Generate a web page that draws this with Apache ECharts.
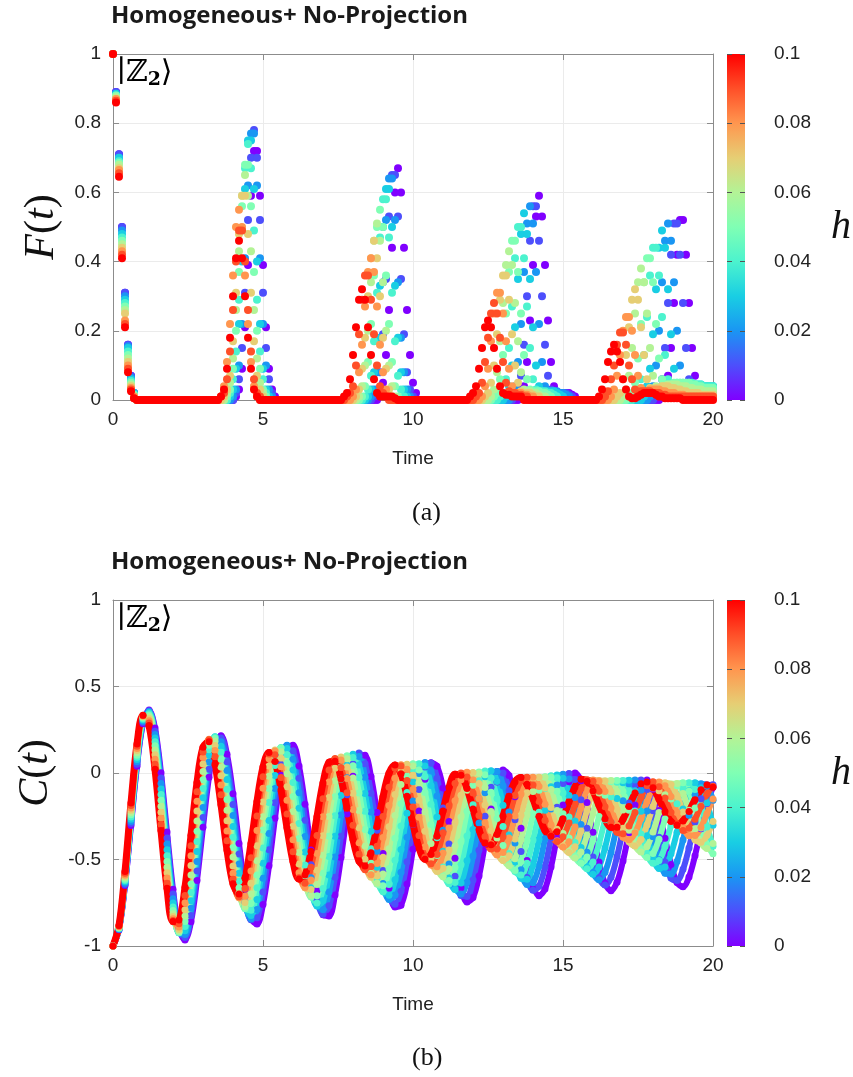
<!DOCTYPE html>
<html><head><meta charset="utf-8">
<script src="https://cdn.jsdelivr.net/npm/echarts@6.0.0/dist/echarts.min.js"></script>
<style>html,body{margin:0;padding:0;background:#fff;}#main{width:853px;height:1077px;}</style>
</head><body><div id="main"></div>
<script>
// ---------------- data ----------------
const hValues = [0, 0.01, 0.02, 0.03, 0.04, 0.05, 0.06, 0.07, 0.08, 0.09, 0.1];
const F_STEP = 0.1;   // sampling step of F(t)
const C_STEP = 0.2;   // sampling step of C(t)
const timeTicks = [0, 5, 10, 15, 20];
const fTicks = [0, 0.2, 0.4, 0.6, 0.8, 1];
const cTicks = [-1, -0.5, 0, 0.5, 1];
const hTicks = [0, 0.02, 0.04, 0.06, 0.08, 0.1];

const F_h0 = [
1,.89,.71,.5,.31,.16,.07,.02,0,0, 0,0,0,0,0,0,0,0,0,0, 0,0,0,0,0,0,0,0,0,0, 0,0,0,0,0,0,0,0,0,0,
0,.01,.03,.09,.21,.39,.59,.72,.72,.59, .39,.21,.09,.03,.01,0,0,0,0,0, 0,0,0,0,0,0,0,0,0,0, 0,0,0,0,0,0,0,0,0,0,
0,0,0,0,0,0,0,0,0,.02, .05,.13,.26,.44,.6,.67,.6,.44,.26,.13, .05,.02,0,0,0,0,0,0,0,0, 0,0,0,0,0,0,0,0,0,0,
0,0,0,0,0,0,0,0,0,0, 0,0,0,0,0,0,.01,.04,.11,.23, .39,.53,.59,.53,.39,.23,.11,.04,.02,.02, .02,.02,.02,.015,.01,0,0,0,0,0,
0,0,0,0,0,0,0,0,0,0, 0,0,0,0,0,0,0,0,0,0, 0,0,0,.01,.02,.07,.15,.28,.42,.52, .52,.42,.28,.15,.07,.03,.02,.02,.02,.02,
.02];
const F_h1 = [
1,.89,.71,.5,.31,.16,.07,.02,0,0, 0,0,0,0,0,0,0,0,0,0, 0,0,0,0,0,0,0,0,0,0, 0,0,0,0,0,0,0,0,0,0,
0,.02,.06,.15,.31,.52,.7,.78,.7,.52, .31,.15,.06,.02,0,0,0,0,0,0, 0,0,0,0,0,0,0,0,0,0, 0,0,0,0,0,0,0,0,0,0,
0,0,0,0,0,0,0,.01,.03,.08, .19,.35,.53,.65,.65,.53,.35,.19,.08,.03, .01,0,0,0,0,0,0,0,0,0, 0,0,0,0,0,0,0,0,0,0,
0,0,0,0,0,0,0,0,0,0, 0,0,0,0,.01,.03,.07,.16,.3,.46, .56,.56,.46,.3,.16,.07,.03,.02,.02,.02, .02,.02,.015,.01,0,0,0,0,0,0,
0,0,0,0,0,0,0,0,0,0, 0,0,0,0,0,0,0,0,0,0, 0,.01,.02,.06,.15,.28,.42,.51,.51,.42, .28,.15,.06,.03,.03,.03,.035,.035,.035,.035,
.035];
const F_h2 = [
1,.885,.7,.49,.3,.155,.065,.02,0,0, 0,0,0,0,0,0,0,0,0,0, 0,0,0,0,0,0,0,0,0,0, 0,0,0,0,0,0,0,0,0,0,
.01,.03,.1,.22,.41,.62,.77,.77,.62,.41, .22,.1,.03,.01,0,0,0,0,0,0, 0,0,0,0,0,0,0,0,0,0, 0,0,0,0,0,0,0,0,0,0,
0,0,0,0,0,0,.01,.03,.08,.18, .34,.52,.64,.64,.52,.34,.18,.08,.03,.01, 0,0,0,0,0,0,0,0,0,0, 0,0,0,0,0,0,0,0,0,0,
0,0,0,0,0,0,0,0,0,0, 0,0,0,.01,.04,.11,.22,.37,.51,.56, .51,.37,.22,.11,.04,.02,.02,.025,.025,.02, .02,.015,.01,0,0,0,0,0,0,0,
0,0,0,0,0,0,0,0,0,0, 0,0,0,0,0,0,0,0,0,.01, .04,.1,.2,.34,.46,.51,.46,.34,.2,.1, .04,.03,.03,.035,.04,.04,.04,.04,.04,.04,
.04];
const F_h3 = [
1,.885,.7,.48,.29,.15,.06,.02,0,0, 0,0,0,0,0,0,0,0,0,0, 0,0,0,0,0,0,0,0,0,0, 0,0,0,0,0,0,0,0,0,.01,
.03,.09,.22,.4,.61,.75,.75,.61,.4,.22, .09,.03,.01,0,0,0,0,0,0,0, 0,0,0,0,0,0,0,0,0,0, 0,0,0,0,0,0,0,0,0,0,
0,0,0,0,0,.01,.03,.08,.18,.33, .5,.61,.61,.5,.33,.18,.08,.03,.01,0, 0,0,0,0,0,0,0,0,0,0, 0,0,0,0,0,0,0,0,0,0,
0,0,0,0,0,0,0,0,0,0, 0,.01,.04,.1,.21,.35,.48,.54,.48,.35, .21,.1,.04,.02,.02,.025,.025,.025,.02,.015, .01,0,0,0,0,0,0,0,0,0,
0,0,0,0,0,0,0,0,0,0, 0,0,0,0,0,0,0,.01,.04,.09, .19,.32,.44,.49,.44,.32,.19,.09,.045,.04, .04,.045,.045,.045,.045,.045,.045,.04,.04,.04,
.04];
const F_h4 = [
1,.88,.69,.47,.28,.14,.055,.015,0,0, 0,0,0,0,0,0,0,0,0,0, 0,0,0,0,0,0,0,0,0,0, 0,0,0,0,0,0,0,0,0,.02,
.06,.14,.29,.49,.67,.74,.67,.49,.29,.14, .06,.02,0,0,0,0,0,0,0,0, 0,0,0,0,0,0,0,0,0,0, 0,0,0,0,0,0,0,0,0,0,
0,0,0,0,.01,.03,.07,.17,.31,.47, .58,.58,.47,.31,.17,.07,.03,.01,0,0, 0,0,0,0,0,0,0,0,0,0, 0,0,0,0,0,0,0,0,0,0,
0,0,0,0,0,0,0,0,0,.01, .02,.06,.15,.27,.41,.5,.5,.41,.27,.15, .06,.03,.025,.025,.025,.02,.02,.015,.01,0, 0,0,0,0,0,0,0,0,0,0,
0,0,0,0,0,0,0,0,0,0, 0,0,0,0,.01,.02,.06,.13,.24,.36, .44,.44,.36,.24,.13,.06,.045,.045,.05,.05, .05,.05,.05,.05,.045,.045,.045,.04,.04,.04,
.04];
const F_h5 = [
1,.88,.685,.46,.27,.13,.05,.015,0,0, 0,0,0,0,0,0,0,0,0,0, 0,0,0,0,0,0,0,0,0,0, 0,0,0,0,0,0,0,0,.01,.03,
.09,.2,.37,.56,.68,.68,.56,.37,.2,.09, .03,.01,0,0,0,0,0,0,0,0, 0,0,0,0,0,0,0,0,0,0, 0,0,0,0,0,0,0,0,0,0,
0,0,0,.01,.04,.11,.22,.36,.5,.55, .5,.36,.22,.11,.04,.01,0,0,0,0, 0,0,0,0,0,0,0,0,0,0, 0,0,0,0,0,0,0,0,0,0,
0,0,0,0,0,0,0,.01,.02,.06, .13,.25,.37,.46,.46,.37,.25,.13,.06,.03, .025,.025,.025,.02,.02,.015,.01,0,0,0, 0,0,0,0,0,0,0,0,0,0,
0,0,0,0,0,0,0,0,0,0, 0,0,.01,.02,.05,.12,.22,.34,.41,.41, .34,.22,.12,.06,.045,.045,.045,.05,.05,.05, .05,.05,.05,.045,.045,.04,.04,.035,.035,.035,
.035];
const F_h6 = [
1,.875,.68,.45,.26,.12,.045,.01,0,0, 0,0,0,0,0,0,0,0,0,0, 0,0,0,0,0,0,0,0,0,0, 0,0,0,0,0,0,0,0,.02,.05,
.12,.26,.43,.59,.65,.59,.43,.26,.12,.05, .02,0,0,0,0,0,0,0,0,0, 0,0,0,0,0,0,0,0,0,0, 0,0,0,0,0,0,0,0,0,0,
0,0,.01,.04,.1,.2,.34,.46,.51,.46, .34,.2,.1,.04,.01,0,0,0,0,0, 0,0,0,0,0,0,0,0,0,0, 0,0,0,0,0,0,0,0,0,0,
0,0,0,0,0,0,.01,.03,.08,.17, .28,.39,.43,.39,.28,.17,.08,.03,.025,.025, .02,.02,.015,.01,.01,0,0,0,0,0, 0,0,0,0,0,0,0,0,0,0,
0,0,0,0,0,0,0,0,0,0, .01,.03,.07,.15,.25,.34,.38,.34,.25,.15, .07,.04,.035,.04,.04,.045,.045,.045,.045,.04, .04,.04,.035,.035,.03,.03,.03,.025,.025,.025,
.025];
const F_h7 = [
1,.87,.67,.44,.25,.11,.04,.01,0,0, 0,0,0,0,0,0,0,0,0,0, 0,0,0,0,0,0,0,0,0,0, 0,0,0,0,0,0,0,.01,.03,.07,
.17,.31,.48,.59,.59,.48,.31,.17,.07,.03, .01,0,0,0,0,0,0,0,0,0, 0,0,0,0,0,0,0,0,0,0, 0,0,0,0,0,0,0,0,0,0,
0,.01,.03,.09,.18,.3,.41,.46,.41,.3, .18,.09,.03,.01,0,0,0,0,0,0, 0,0,0,0,0,0,0,0,0,0, 0,0,0,0,0,0,0,0,0,0,
0,0,0,0,.01,.02,.05,.1,.19,.29, .36,.36,.29,.19,.1,.05,.025,.02,.02,.02, .015,.01,.01,0,0,0,0,0,0,0, 0,0,0,0,0,0,0,0,0,0,
0,0,0,0,0,0,0,0,.01,.02, .06,.13,.21,.29,.32,.29,.21,.13,.06,.035, .03,.035,.035,.04,.04,.04,.035,.035,.03,.03, .025,.025,.02,.02,.02,.02,.015,.015,.015,.015,
.015];
const F_h8 = [
1,.87,.665,.43,.23,.1,.035,.01,0,0, 0,0,0,0,0,0,0,0,0,0, 0,0,0,0,0,0,0,0,0,0, 0,0,0,0,0,0,.01,.04,.11,.22,
.36,.5,.55,.5,.36,.22,.11,.04,.01,0, 0,0,0,0,0,0,0,0,0,0, 0,0,0,0,0,0,0,0,0,0, 0,0,0,0,0,0,0,0,0,0,
.01,.03,.08,.16,.27,.37,.41,.37,.27,.16, .08,.03,.01,0,0,0,0,0,0,0, 0,0,0,0,0,0,0,0,0,0, 0,0,0,0,0,0,0,0,0,0,
0,0,0,.01,.04,.09,.17,.25,.31,.31, .25,.17,.09,.04,.02,.02,.02,.015,.015,.01, .01,0,0,0,0,0,0,0,0,0, 0,0,0,0,0,0,0,0,0,0,
0,0,0,0,0,0,.01,.03,.07,.13, .2,.24,.24,.2,.13,.07,.035,.025,.025,.03, .03,.03,.03,.025,.025,.02,.02,.02,.015,.015, .015,.01,.01,.01,.01,.01,.01,.01,.01,.01,
.01];
const F_h9 = [
1,.865,.655,.42,.22,.09,.03,.005,0,0, 0,0,0,0,0,0,0,0,0,0, 0,0,0,0,0,0,0,0,0,0, 0,0,0,0,0,0,.01,.02,.06,.14,
.26,.4,.49,.49,.4,.26,.14,.06,.02,.01, 0,0,0,0,0,0,0,0,0,0, 0,0,0,0,0,0,0,0,0,0, 0,0,0,0,0,0,0,0,.01,.02,
.04,.1,.19,.29,.36,.36,.29,.19,.1,.04, .02,.01,0,0,0,0,0,0,0,0, 0,0,0,0,0,0,0,0,0,0, 0,0,0,0,0,0,0,0,0,0,
0,.01,.02,.05,.11,.18,.25,.28,.25,.18, .11,.05,.025,.02,.02,.015,.015,.01,.01,0, 0,0,0,0,0,0,0,0,0,0, 0,0,0,0,0,0,0,0,0,0,
0,0,0,0,.01,.025,.06,.1,.16,.195, .195,.16,.1,.06,.03,.02,.025,.025,.025,.025, .02,.02,.02,.015,.015,.01,.01,.01,.01,.01, .01,.01,.01,.01,.01,.01,.01,.01,.01,.01,
.01];
const F_h10 = [
1,.86,.645,.41,.21,.08,.025,.005,0,0, 0,0,0,0,0,0,0,0,0,0, 0,0,0,0,0,0,0,0,0,0, 0,0,0,0,0,0,.01,.03,.09,.18,
.3,.41,.46,.41,.3,.18,.09,.03,.01,0, 0,0,0,0,0,0,0,0,0,0, 0,0,0,0,0,0,0,0,0,0, 0,0,0,0,0,0,0,.01,.02,.06,
.13,.21,.29,.32,.29,.21,.13,.06,.02,.01, .01,.01,.01,.01,.005,0,0,0,0,0, 0,0,0,0,0,0,0,0,0,0, 0,0,0,0,0,0,0,0,0,.01,
.02,.04,.09,.15,.21,.23,.21,.15,.09,.04, .02,.015,.015,.01,.01,.01,.01,0,0,0, 0,0,0,0,0,0,0,0,0,0, 0,0,0,0,0,0,0,0,0,0,
0,0,.01,.03,.06,.11,.14,.16,.14,.11, .06,.03,.01,.005,.005,.01,.015,.02,.02,.02, .02,.015,.01,.01,.005,.005,.005,.005,.005,.005, 0,0,0,0,0,0,0,0,0,0,
0];

const C_h0 = [
-1,-0.906,-0.651,-0.304,0.039,0.285,0.364,0.26,0.001,-0.341,
-0.672,-0.901,-0.965,-0.86,-0.621,-0.314,-0.024,0.171,0.216,0.108,
-0.12,-0.407,-0.671,-0.843,-0.873,-0.76,-0.536,-0.261,-0.013,0.141,
0.16,0.041,-0.18,-0.445,-0.679,-0.819,-0.826,-0.705,-0.489,-0.237,
-0.019,0.105,0.102,-0.02,-0.229,-0.466,-0.666,-0.775,-0.764,-0.641,
-0.441,-0.219,-0.036,0.059,0.039,-0.086,-0.281,-0.493,-0.664,-0.746,
-0.72,-0.596,-0.408,-0.208,-0.052,0.018,-0.015,-0.138,-0.319,-0.506,
-0.65,-0.71,-0.67,-0.544,-0.366,-0.185,-0.051,0,-0.045,-0.17,
-0.343,-0.514,-0.638,-0.68,-0.631,-0.508,-0.345,-0.185,-0.074,-0.041,
-0.094,-0.217,-0.377,-0.529,-0.633,-0.658,-0.601,-0.478,-0.322,-0.177,
-0.082];
const C_h1 = [
-1,-0.904,-0.644,-0.292,0.051,0.292,0.36,0.242,-0.029,-0.375,
-0.699,-0.911,-0.951,-0.823,-0.567,-0.257,0.022,0.19,0.202,0.065,
-0.182,-0.468,-0.713,-0.848,-0.837,-0.688,-0.443,-0.172,0.049,0.159,
0.128,-0.031,-0.273,-0.531,-0.731,-0.817,-0.768,-0.602,-0.365,-0.125,
0.052,0.116,0.053,-0.117,-0.331,-0.564,-0.717,-0.759,-0.683,-0.513,
-0.297,-0.096,0.035,0.058,-0.03,-0.202,-0.411,-0.597,-0.708,-0.714,
-0.618,-0.447,-0.25,-0.082,0.009,0,-0.103,-0.27,-0.454,-0.604,
-0.678,-0.654,-0.543,-0.375,-0.198,-0.061,-0.003,-0.038,-0.155,-0.319,
-0.485,-0.606,-0.648,-0.603,-0.484,-0.327,-0.173,-0.068,-0.04,-0.096,
-0.218,-0.372,-0.515,-0.607,-0.622,-0.557,-0.433,-0.283,-0.149,-0.07,
-0.068];
const C_h2 = [
-1,-0.902,-0.637,-0.28,0.065,0.299,0.355,0.222,-0.06,-0.41,
-0.727,-0.919,-0.934,-0.782,-0.512,-0.199,0.064,0.204,0.181,0.015,
-0.245,-0.526,-0.747,-0.843,-0.789,-0.608,-0.349,-0.089,0.099,0.16,
0.08,-0.114,-0.367,-0.606,-0.762,-0.79,-0.688,-0.486,-0.243,-0.028,
0.096,0.096,-0.024,-0.226,-0.453,-0.639,-0.731,-0.705,-0.573,-0.372,
-0.162,-0.003,0.061,0.012,-0.133,-0.331,-0.526,-0.661,-0.699,-0.631,
-0.48,-0.289,-0.114,-0.004,0.009,-0.073,-0.226,-0.405,-0.559,-0.644,
-0.635,-0.538,-0.38,-0.208,-0.07,-0.007,-0.034,-0.142,-0.298,-0.458,
-0.575,-0.617,-0.573,-0.459,-0.307,-0.161,-0.063,-0.041,-0.1,-0.22,
-0.368,-0.501,-0.58,-0.584,-0.512,-0.387,-0.244,-0.124,-0.062,-0.075,
-0.158];
const C_h3 = [
-1,-0.9,-0.629,-0.267,0.078,0.306,0.349,0.202,-0.092,-0.444,
-0.752,-0.923,-0.912,-0.738,-0.454,-0.143,0.102,0.209,0.154,-0.038,
-0.309,-0.58,-0.77,-0.824,-0.731,-0.521,-0.274,-0.015,0.132,0.142,
0.017,-0.204,-0.456,-0.664,-0.769,-0.739,-0.59,-0.365,-0.13,0.045,
0.108,0.046,-0.118,-0.337,-0.545,-0.682,-0.706,-0.617,-0.442,-0.233,
-0.051,0.049,0.04,-0.072,-0.254,-0.452,-0.607,-0.674,-0.636,-0.507,
-0.327,-0.147,-0.022,0.013,-0.049,-0.186,-0.358,-0.514,-0.609,-0.614,
-0.53,-0.383,-0.216,-0.079,-0.011,-0.031,-0.13,-0.278,-0.431,-0.545,
-0.585,-0.543,-0.433,-0.286,-0.148,-0.057,-0.042,-0.103,-0.221,-0.363,
-0.485,-0.552,-0.544,-0.467,-0.343,-0.208,-0.102,-0.057,-0.085,-0.174,
-0.302];
const C_h4 = [
-1,-0.898,-0.622,-0.255,0.091,0.312,0.342,0.18,-0.124,-0.478,
-0.774,-0.924,-0.887,-0.691,-0.396,-0.09,0.134,0.208,0.12,-0.094,
-0.371,-0.626,-0.783,-0.794,-0.664,-0.433,-0.17,0.044,0.147,0.107,
-0.055,-0.292,-0.532,-0.702,-0.751,-0.668,-0.482,-0.247,-0.036,0.088,
0.089,-0.026,-0.221,-0.438,-0.61,-0.686,-0.645,-0.505,-0.307,-0.112,
0.022,0.054,-0.021,-0.18,-0.374,-0.544,-0.64,-0.633,-0.531,-0.364,
-0.184,-0.045,0.012,-0.028,-0.147,-0.309,-0.466,-0.57,-0.59,-0.522,
-0.387,-0.227,-0.089,-0.016,-0.027,-0.116,-0.255,-0.402,-0.513,-0.554,
-0.515,-0.409,-0.27,-0.138,-0.054,-0.043,-0.104,-0.219,-0.353,-0.465,
-0.521,-0.506,-0.425,-0.303,-0.178,-0.086,-0.056,-0.095,-0.19,-0.312,
-0.424];
const C_h5 = [
-1,-0.896,-0.614,-0.242,0.103,0.318,0.334,0.157,-0.158,-0.511,
-0.795,-0.921,-0.859,-0.642,-0.337,-0.039,0.16,0.199,0.08,-0.153,
-0.43,-0.664,-0.783,-0.753,-0.589,-0.33,-0.09,0.091,0.144,0.058,
-0.136,-0.379,-0.594,-0.717,-0.709,-0.579,-0.366,-0.138,0.035,0.1,
0.042,-0.116,-0.326,-0.521,-0.642,-0.652,-0.553,-0.377,-0.178,-0.018,
0.054,0.017,-0.113,-0.297,-0.477,-0.597,-0.621,-0.546,-0.397,-0.221,
-0.071,0.006,-0.01,-0.111,-0.263,-0.419,-0.531,-0.564,-0.511,-0.39,
-0.235,-0.099,-0.021,-0.025,-0.105,-0.235,-0.375,-0.482,-0.522,-0.486,
-0.386,-0.252,-0.128,-0.05,-0.043,-0.105,-0.216,-0.342,-0.443,-0.489,
-0.466,-0.383,-0.266,-0.151,-0.073,-0.057,-0.106,-0.203,-0.318,-0.416,
-0.467];
const C_h6 = [
-1,-0.893,-0.606,-0.229,0.117,0.323,0.325,0.133,-0.192,-0.545,
-0.814,-0.915,-0.827,-0.589,-0.278,0.008,0.179,0.183,0.035,-0.215,
-0.486,-0.694,-0.772,-0.7,-0.507,-0.253,-0.019,0.121,0.123,-0.005,
-0.222,-0.459,-0.64,-0.708,-0.645,-0.475,-0.251,-0.045,0.079,0.082,
-0.029,-0.217,-0.422,-0.579,-0.638,-0.584,-0.438,-0.245,-0.067,0.039,
0.041,-0.057,-0.224,-0.407,-0.547,-0.6,-0.553,-0.424,-0.255,-0.099,
-0.005,-0.002,-0.084,-0.223,-0.375,-0.492,-0.536,-0.496,-0.386,-0.241,
-0.107,-0.026,-0.024,-0.095,-0.217,-0.35,-0.452,-0.491,-0.456,-0.36,
-0.233,-0.116,-0.046,-0.044,-0.107,-0.214,-0.331,-0.421,-0.456,-0.425,
-0.341,-0.229,-0.125,-0.063,-0.061,-0.118,-0.216,-0.322,-0.404,-0.436,
-0.408];
const C_h7 = [
-1,-0.89,-0.597,-0.215,0.13,0.327,0.314,0.106,-0.227,-0.577,
-0.83,-0.904,-0.79,-0.534,-0.219,0.052,0.191,0.159,-0.016,-0.276,
-0.537,-0.713,-0.748,-0.637,-0.42,-0.167,0.04,0.133,0.086,-0.079,
-0.308,-0.526,-0.663,-0.674,-0.562,-0.363,-0.142,0.028,0.092,0.035,
-0.117,-0.317,-0.498,-0.602,-0.596,-0.487,-0.31,-0.124,0.011,0.051,
-0.013,-0.158,-0.336,-0.491,-0.57,-0.551,-0.445,-0.287,-0.128,-0.019,
0.003,-0.061,-0.185,-0.332,-0.451,-0.506,-0.479,-0.381,-0.244,-0.114,
-0.031,-0.024,-0.087,-0.2,-0.325,-0.422,-0.459,-0.426,-0.335,-0.216,
-0.106,-0.043,-0.046,-0.109,-0.211,-0.319,-0.398,-0.422,-0.384,-0.3,
-0.194,-0.103,-0.056,-0.067,-0.13,-0.225,-0.321,-0.386,-0.4,-0.36,
-0.28];
const C_h8 = [
-1,-0.888,-0.589,-0.202,0.142,0.33,0.302,0.08,-0.261,-0.607,
-0.842,-0.89,-0.75,-0.478,-0.163,0.09,0.195,0.13,-0.069,-0.335,
-0.58,-0.721,-0.713,-0.567,-0.333,-0.088,0.083,0.127,0.036,-0.157,
-0.386,-0.576,-0.662,-0.619,-0.466,-0.253,-0.052,0.071,0.075,-0.032,
-0.211,-0.403,-0.545,-0.588,-0.523,-0.373,-0.188,-0.031,0.047,0.021,
-0.096,-0.256,-0.427,-0.532,-0.542,-0.462,-0.318,-0.16,-0.039,0.004,
-0.039,-0.148,-0.287,-0.409,-0.474,-0.46,-0.376,-0.249,-0.122,-0.038,
-0.024,-0.078,-0.181,-0.299,-0.391,-0.428,-0.398,-0.312,-0.199,-0.098,
-0.04,-0.046,-0.107,-0.203,-0.302,-0.371,-0.386,-0.346,-0.263,-0.166,
-0.087,-0.052,-0.073,-0.138,-0.228,-0.312,-0.362,-0.361,-0.313,-0.234,
-0.15];
const C_h9 = [
-1,-0.885,-0.58,-0.188,0.155,0.333,0.289,0.051,-0.297,-0.637,
-0.853,-0.872,-0.708,-0.42,-0.108,0.122,0.192,0.094,-0.125,-0.392,
-0.614,-0.716,-0.667,-0.49,-0.248,-0.022,0.11,0.105,-0.026,-0.237,
-0.455,-0.605,-0.638,-0.545,-0.361,-0.149,0.018,0.084,0.032,-0.114,
-0.302,-0.47,-0.559,-0.54,-0.424,-0.252,-0.082,0.028,0.04,-0.044,
-0.197,-0.361,-0.485,-0.525,-0.471,-0.345,-0.191,-0.061,0,-0.023,
-0.116,-0.245,-0.367,-0.44,-0.439,-0.368,-0.252,-0.13,-0.044,-0.024,
-0.07,-0.164,-0.273,-0.361,-0.396,-0.369,-0.289,-0.184,-0.09,-0.039,
-0.047,-0.106,-0.195,-0.284,-0.343,-0.351,-0.307,-0.228,-0.14,-0.074,
-0.051,-0.079,-0.145,-0.228,-0.298,-0.333,-0.32,-0.267,-0.192,-0.121,
-0.077];
const C_h10 = [
-1,-0.882,-0.57,-0.174,0.167,0.334,0.274,0.021,-0.333,-0.666,
-0.859,-0.85,-0.66,-0.36,-0.055,0.149,0.18,0.052,-0.184,-0.445,
-0.64,-0.699,-0.609,-0.408,-0.165,0.034,0.119,0.066,-0.098,-0.316,
-0.511,-0.613,-0.59,-0.454,-0.253,-0.058,0.062,0.068,-0.034,-0.204,
-0.384,-0.509,-0.537,-0.461,-0.31,-0.137,-0.002,0.046,-0.005,-0.134,
-0.296,-0.433,-0.498,-0.471,-0.365,-0.219,-0.084,-0.007,-0.013,-0.09,
-0.208,-0.328,-0.405,-0.415,-0.356,-0.25,-0.134,-0.05,-0.026,-0.065,
-0.149,-0.25,-0.332,-0.365,-0.339,-0.264,-0.167,-0.081,-0.036,-0.047,
-0.104,-0.187,-0.266,-0.314,-0.314,-0.268,-0.194,-0.116,-0.062,-0.052,
-0.085,-0.151,-0.224,-0.281,-0.3,-0.277,-0.222,-0.154,-0.097,-0.07,
-0.083];

const F_all = [F_h0, F_h1, F_h2, F_h3, F_h4, F_h5, F_h6, F_h7, F_h8, F_h9, F_h10];
const C_all = [C_h0, C_h1, C_h2, C_h3, C_h4, C_h5, C_h6, C_h7, C_h8, C_h9, C_h10];

// ---------------- styling ----------------
function rainbow(x) {            // matplotlib-like "rainbow" colormap
  const r = Math.min(1, Math.abs(2 * x - 0.5));
  const g = Math.sin(Math.PI * x);
  const b = Math.cos(Math.PI * x / 2);
  const h = v => Math.round(Math.max(0, Math.min(1, v)) * 255).toString(16).padStart(2, '0');
  return '#' + h(r) + h(g) + h(b);
}
const H_MAX = hValues[hValues.length - 1];
const colors = hValues.map(h => rainbow(h / H_MAX));

const AX = '#8c8c8c';
const LBL = {fontFamily: 'Liberation Sans', fontSize: 19, color: '#222'};
const tickFmt = v => String(+v.toFixed(3));

function mainX(grid, top, name) {
  return {
    type: 'value', gridIndex: grid, position: top ? 'top' : 'bottom',
    min: timeTicks[0], max: timeTicks[timeTicks.length - 1], interval: timeTicks[1] - timeTicks[0],
    axisLine: {show: true, onZero: false, lineStyle: {color: AX}},
    axisTick: {show: true, inside: true, length: 6, lineStyle: {color: AX}},
    axisLabel: top ? {show: false} : Object.assign({margin: 10, formatter: tickFmt}, LBL),
    splitLine: {show: !top, lineStyle: {color: '#ebebeb'}},
    name: top ? '' : name, nameLocation: 'middle', nameGap: 49,
    nameTextStyle: {fontFamily: 'Liberation Sans', fontSize: 19, color: '#222'}
  };
}
function mainY(grid, right, ticks, nameRich) {
  return {
    type: 'value', gridIndex: grid, position: right ? 'right' : 'left',
    min: ticks[0], max: ticks[ticks.length - 1], interval: ticks[1] - ticks[0],
    axisLine: {show: true, onZero: false, lineStyle: {color: AX}},
    axisTick: {show: true, inside: true, length: 6, lineStyle: {color: AX}},
    axisLabel: right ? {show: false} : Object.assign({margin: 12, formatter: tickFmt}, LBL),
    splitLine: {show: !right, lineStyle: {color: '#ebebeb'}},
    name: right ? '' : nameRich, nameLocation: 'middle', nameRotate: 90, nameGap: 50,
    nameTextStyle: {rich: {
      i: {fontFamily: 'Liberation Serif', fontStyle: 'italic', fontSize: 42, color: '#111'},
      n: {fontFamily: 'Liberation Serif', fontSize: 42, color: '#111'}
    }}
  };
}
function cbX(grid) {
  return {type: 'category', gridIndex: grid, data: ['h'], show: false, boundaryGap: true};
}
function cbY(grid, right) {
  return {
    type: 'value', gridIndex: grid, position: right ? 'right' : 'left', z: 10,
    min: hTicks[0], max: hTicks[hTicks.length - 1], interval: hTicks[1] - hTicks[0],
    axisLine: {show: false},
    axisTick: {show: true, inside: true, length: 5, lineStyle: {color: '#555'}},
    axisLabel: right ? Object.assign({margin: 29, formatter: tickFmt}, LBL) : {show: false},
    splitLine: {show: false},
    name: right ? 'h' : '', nameLocation: 'middle', nameRotate: 0, nameGap: 86,
    nameTextStyle: {fontFamily: 'Liberation Serif', fontStyle: 'italic', fontSize: 40, color: '#111'}
  };
}

const gradStops = hValues.map((h, i) => ({offset: h / H_MAX, color: colors[i]}));
const cbColor = new echarts.graphic.LinearGradient(0, 1, 0, 0, gradStops);

const series = [];
F_all.forEach((arr, j) => {
  series.push({
    type: 'scatter', xAxisIndex: 0, yAxisIndex: 0, symbolSize: 8, silent: true,
    itemStyle: {color: colors[j], opacity: 1},
    data: arr.map((v, i) => [+(i * F_STEP).toFixed(2), v])
  });
});
C_all.forEach((arr, j) => {
  series.push({
    type: 'line', xAxisIndex: 2, yAxisIndex: 2, smooth: 0.35, silent: true,
    showSymbol: true, symbol: 'circle', symbolSize: 7,
    lineStyle: {color: colors[j], width: j === C_all.length - 1 ? 7 : 6},
    itemStyle: {color: colors[j]},
    data: arr.map((v, i) => [+(i * C_STEP).toFixed(2), v])
  });
});
series.push({type: 'bar', xAxisIndex: 4, yAxisIndex: 4, barWidth: '100%', silent: true,
  itemStyle: {color: cbColor}, data: [H_MAX]});
series.push({type: 'bar', xAxisIndex: 5, yAxisIndex: 6, barWidth: '100%', silent: true,
  itemStyle: {color: cbColor}, data: [H_MAX]});

const ketText = '{a|\u2223\u2124}{s|2}{a|\u27E9}';
const ketRich = {
  a: {fontFamily: 'DejaVu Serif', fontSize: 30, color: '#222'},
  s: {fontFamily: 'DejaVu Serif', fontSize: 19, fontWeight: 'bold', color: '#222', padding: [14, 0, 0, 0]}
};
const titleStyle = {fontFamily: 'Open Sans', fontWeight: 'bold', fontSize: 24, color: '#1a1a1a'};

const option = {
  animation: false,
  backgroundColor: '#fff',
  title: [
    {text: 'Homogeneous+ No-Projection', left: 111, top: 4, padding: 0, textStyle: titleStyle},
    {text: 'Homogeneous+ No-Projection', left: 111, top: 550, padding: 0, textStyle: titleStyle}
  ],
  grid: [
    {left: 113, top: 54, width: 600, height: 346},
    {left: 113, top: 600, width: 600, height: 346},
    {left: 727, top: 54, width: 25, height: 346},
    {left: 727, top: 600, width: 25, height: 346}
  ],
  xAxis: [mainX(0, false, 'Time'), mainX(0, true), mainX(1, false, 'Time'), mainX(1, true), cbX(2), cbX(3)],
  yAxis: [
    mainY(0, false, fTicks, '{i|F}{n|(}{i|t}{n|)}'), mainY(0, true, fTicks),
    mainY(1, false, cTicks, '{i|C}{n|(}{i|t}{n|)}'), mainY(1, true, cTicks),
    cbY(2, true), cbY(2, false), cbY(3, true), cbY(3, false)
  ],
  series: series,
  graphic: [
    {type: 'text', left: 117, top: 58, style: {text: ketText, rich: ketRich}},
    {type: 'text', left: 117, top: 604, style: {text: ketText, rich: ketRich}},
    {type: 'text', left: 412, top: 500, style: {text: '(a)', fontFamily: 'Liberation Serif', fontSize: 26, fill: '#111'}},
    {type: 'text', left: 412, top: 1045, style: {text: '(b)', fontFamily: 'Liberation Serif', fontSize: 26, fill: '#111'}}
  ]
};
const chart = echarts.init(document.getElementById('main'));
chart.setOption(option);
</script></body></html>
